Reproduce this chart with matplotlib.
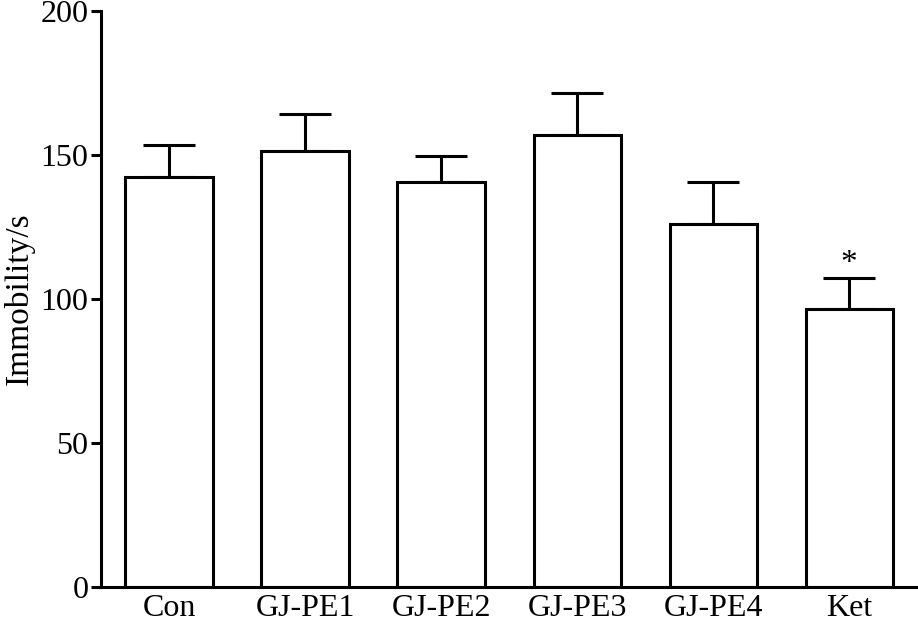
import numpy as np
import matplotlib
matplotlib.use('Agg')
from matplotlib import pyplot as plt

groups = ['Con', 'GJ-PE1', 'GJ-PE2', 'GJ-PE3', 'GJ-PE4', 'Ket']
means = [142.3, 151.4, 140.5, 156.8, 125.9, 96.6]
errs = [11.0, 12.8, 9.2, 14.7, 14.6, 10.8]
marks = ['', '', '', '', '', '*']

plt.rcParams['font.family'] = ['Liberation Serif', 'DejaVu Serif']

fig = plt.figure(figsize=(9.18, 6.27), dpi=100)
ax = fig.add_axes([0.110, 0.064, 0.889, 0.9185])

x = np.arange(len(groups))
ax.bar(x, means, width=0.64, color='white', edgecolor='black', linewidth=2.2, zorder=2)
ax.errorbar(x, means, yerr=[np.zeros(len(errs)), errs], fmt='none', ecolor='black',
            elinewidth=2.2, capsize=19, capthick=2.2, zorder=1)

for xi, m, e, s in zip(x, means, errs, marks):
    if s:
        ax.text(xi, m + e + 2, s, ha='center', va='baseline', fontsize=24)

ax.set_xlim(-0.5, 5.5)
ax.set_ylim(0, 200)
ax.set_yticks([0, 50, 100, 150, 200])
ax.set_xticks(x)
ax.set_xticklabels(groups)
ax.set_ylabel('Immobility/s', fontsize=24, labelpad=4)

ax.spines['top'].set_visible(False)
ax.spines['right'].set_visible(False)
ax.spines['left'].set_linewidth(2.2)
ax.spines['bottom'].set_linewidth(2.2)
ax.tick_params(axis='y', length=7, width=2.2, labelsize=23, pad=2)
ax.tick_params(axis='x', length=0, labelsize=23, pad=5)

fig.savefig('out.png', dpi=100)
